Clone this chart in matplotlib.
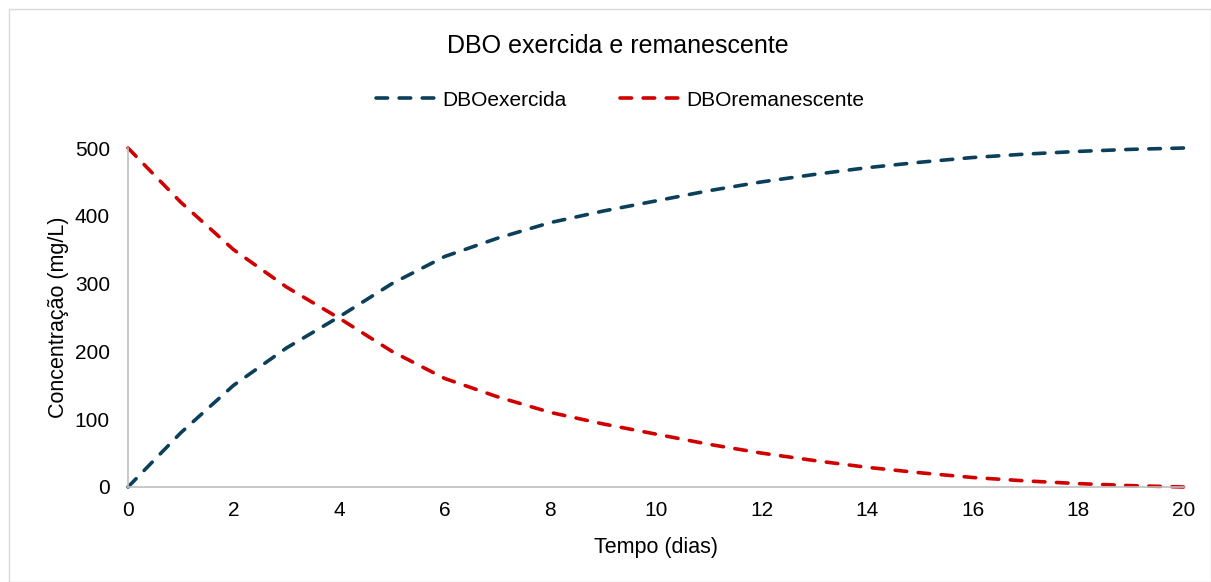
import matplotlib.pyplot as plt
from matplotlib.patches import Rectangle

plt.rcParams['font.family'] = ['Liberation Sans', 'DejaVu Sans']

# dados
tempo = [0, 1, 2, 3, 4, 5, 6, 7, 8, 9, 10, 11, 12, 13, 14, 15, 16, 17, 18, 19, 20]
dbo_exercida = [0, 80, 150, 205, 251, 300, 340, 367, 390, 407, 422, 437, 450,
                461, 471, 479, 486, 491, 495, 498, 500]
dbo_remanescente = [500, 420, 350, 295, 249, 200, 160, 133, 110, 93, 78, 63, 50,
                    39, 29, 21, 14, 9, 5, 2, 0]
x_ticks = [0, 2, 4, 6, 8, 10, 12, 14, 16, 18, 20]
y_ticks = [0, 100, 200, 300, 400, 500]

fig = plt.figure(figsize=(12.11, 5.82), dpi=100)
ax = fig.add_axes([128 / 1211, 1 - 487 / 582, (1184 - 128) / 1211, (487 - 148) / 582])

# moldura externa estilo Excel
fig.patches.append(Rectangle((9 / 1211, 0), 1 - 9 / 1211, 1 - 9 / 582,
                             transform=fig.transFigure, fill=False,
                             edgecolor='#D9D9D9', linewidth=1))

ax.plot(tempo, dbo_exercida, color='#0B3F5A', linewidth=2.6, dashes=(3.2, 3.2),
        dash_capstyle='round', label='DBOexercida', clip_on=False)
ax.plot(tempo, dbo_remanescente, color='#D10000', linewidth=2.6, dashes=(3.2, 3.2),
        dash_capstyle='round', label='DBOremanescente', clip_on=False)

ax.set_xlim(0, 20)
ax.set_ylim(0, 500)
ax.set_xticks(x_ticks)
ax.set_yticks(y_ticks)
ax.tick_params(length=0, labelsize=15, colors='#000000')
ax.tick_params(axis='x', pad=10)
ax.tick_params(axis='y', pad=13)
for s in ['top', 'right']:
    ax.spines[s].set_visible(False)
for s in ['left', 'bottom']:
    ax.spines[s].set_color('#BFBFBF')
    ax.spines[s].set_linewidth(1.2)

ax.set_xlabel('Tempo (dias)', fontsize=15.5, labelpad=12)
ax.set_ylabel('Concentração (mg/L)', fontsize=15.5, labelpad=4)

fig.text(0.51, 1 - 46 / 582, 'DBO exercida e remanescente', ha='center', va='center',
         fontsize=18)
fig.legend(loc='center', bbox_to_anchor=(0.512, 1 - 100 / 582), ncol=2, frameon=False,
           fontsize=15, handlelength=2.85, handletextpad=0.3, columnspacing=2.6)

fig.savefig('out.png', dpi=100)
